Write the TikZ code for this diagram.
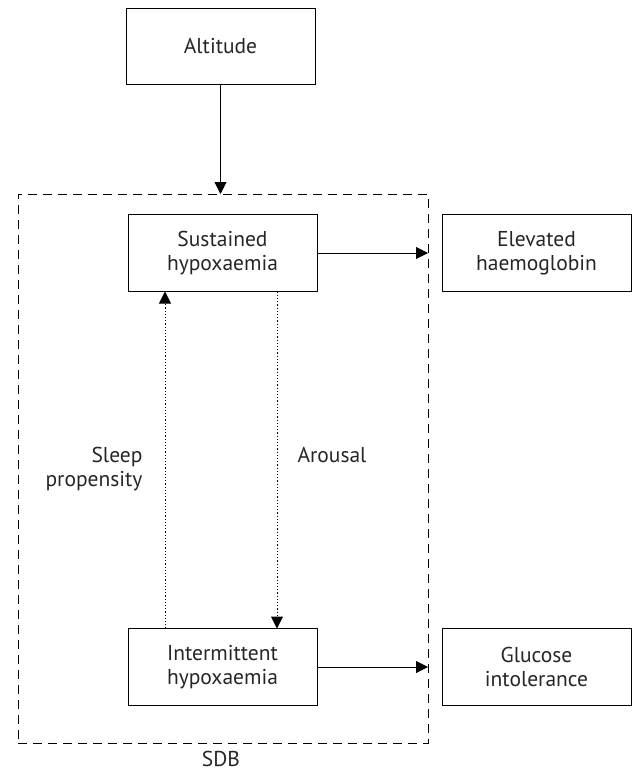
\documentclass[tikz,border=0pt]{standalone}
\usepackage{fontspec}
\setmainfont{PT Sans}
\usetikzlibrary{arrows.meta}

\begin{document}
\begin{tikzpicture}[x=1pt,y=-1pt,line width=1pt,
  font=\fontsize{21.5}{24}\selectfont,
  box/.style={draw,align=center,text=black!85,minimum width=189,minimum height=77,inner sep=0,outer sep=0},
  dashbox/.style={draw,dash pattern=on 9pt off 6pt,inner sep=0,outer sep=0},
  dots/.style={dash pattern=on 1.2pt off 2pt},
  arr/.style={-{Triangle[length=12pt,width=12pt]}},
  lab/.style={text=black!85,inner sep=0}]
\useasboundingbox (0,0) rectangle (633,771);
\node[dashbox,minimum width=410,minimum height=549] (sdb) at (223,468.5) {};
\node[box,minimum height=76] (alt) at (220.5,46) {Altitude};
\node[box] (sus) at (222.5,253) {Sustained\\hypoxaemia};
\node[box] (elev) at (536.5,253) {Elevated\\haemoglobin};
\node[box] (int) at (222.5,667) {Intermittent\\hypoxaemia};
\node[box] (glu) at (536.5,667) {Glucose\\intolerance};
\node[lab] (sdbl) at (221,759) {SDB};
\node[lab,anchor=east,align=right] (sleep) at (143,469) {Sleep\\propensity};
\node[lab,anchor=west] (arou) at (297,455) {Arousal};
\draw[arr] (alt) -- (alt |- sdb.north);
\draw[arr] (sus) -- (sus -| sdb.east);
\draw[arr] (int) -- (int -| sdb.east);
\draw[arr,dots] ([xshift=-57.5]int.north) -- ([xshift=-57.5]sus.south);
\draw[arr,dots] ([xshift=54.5]sus.south) -- ([xshift=54.5]int.north);
\end{tikzpicture}
\end{document}
